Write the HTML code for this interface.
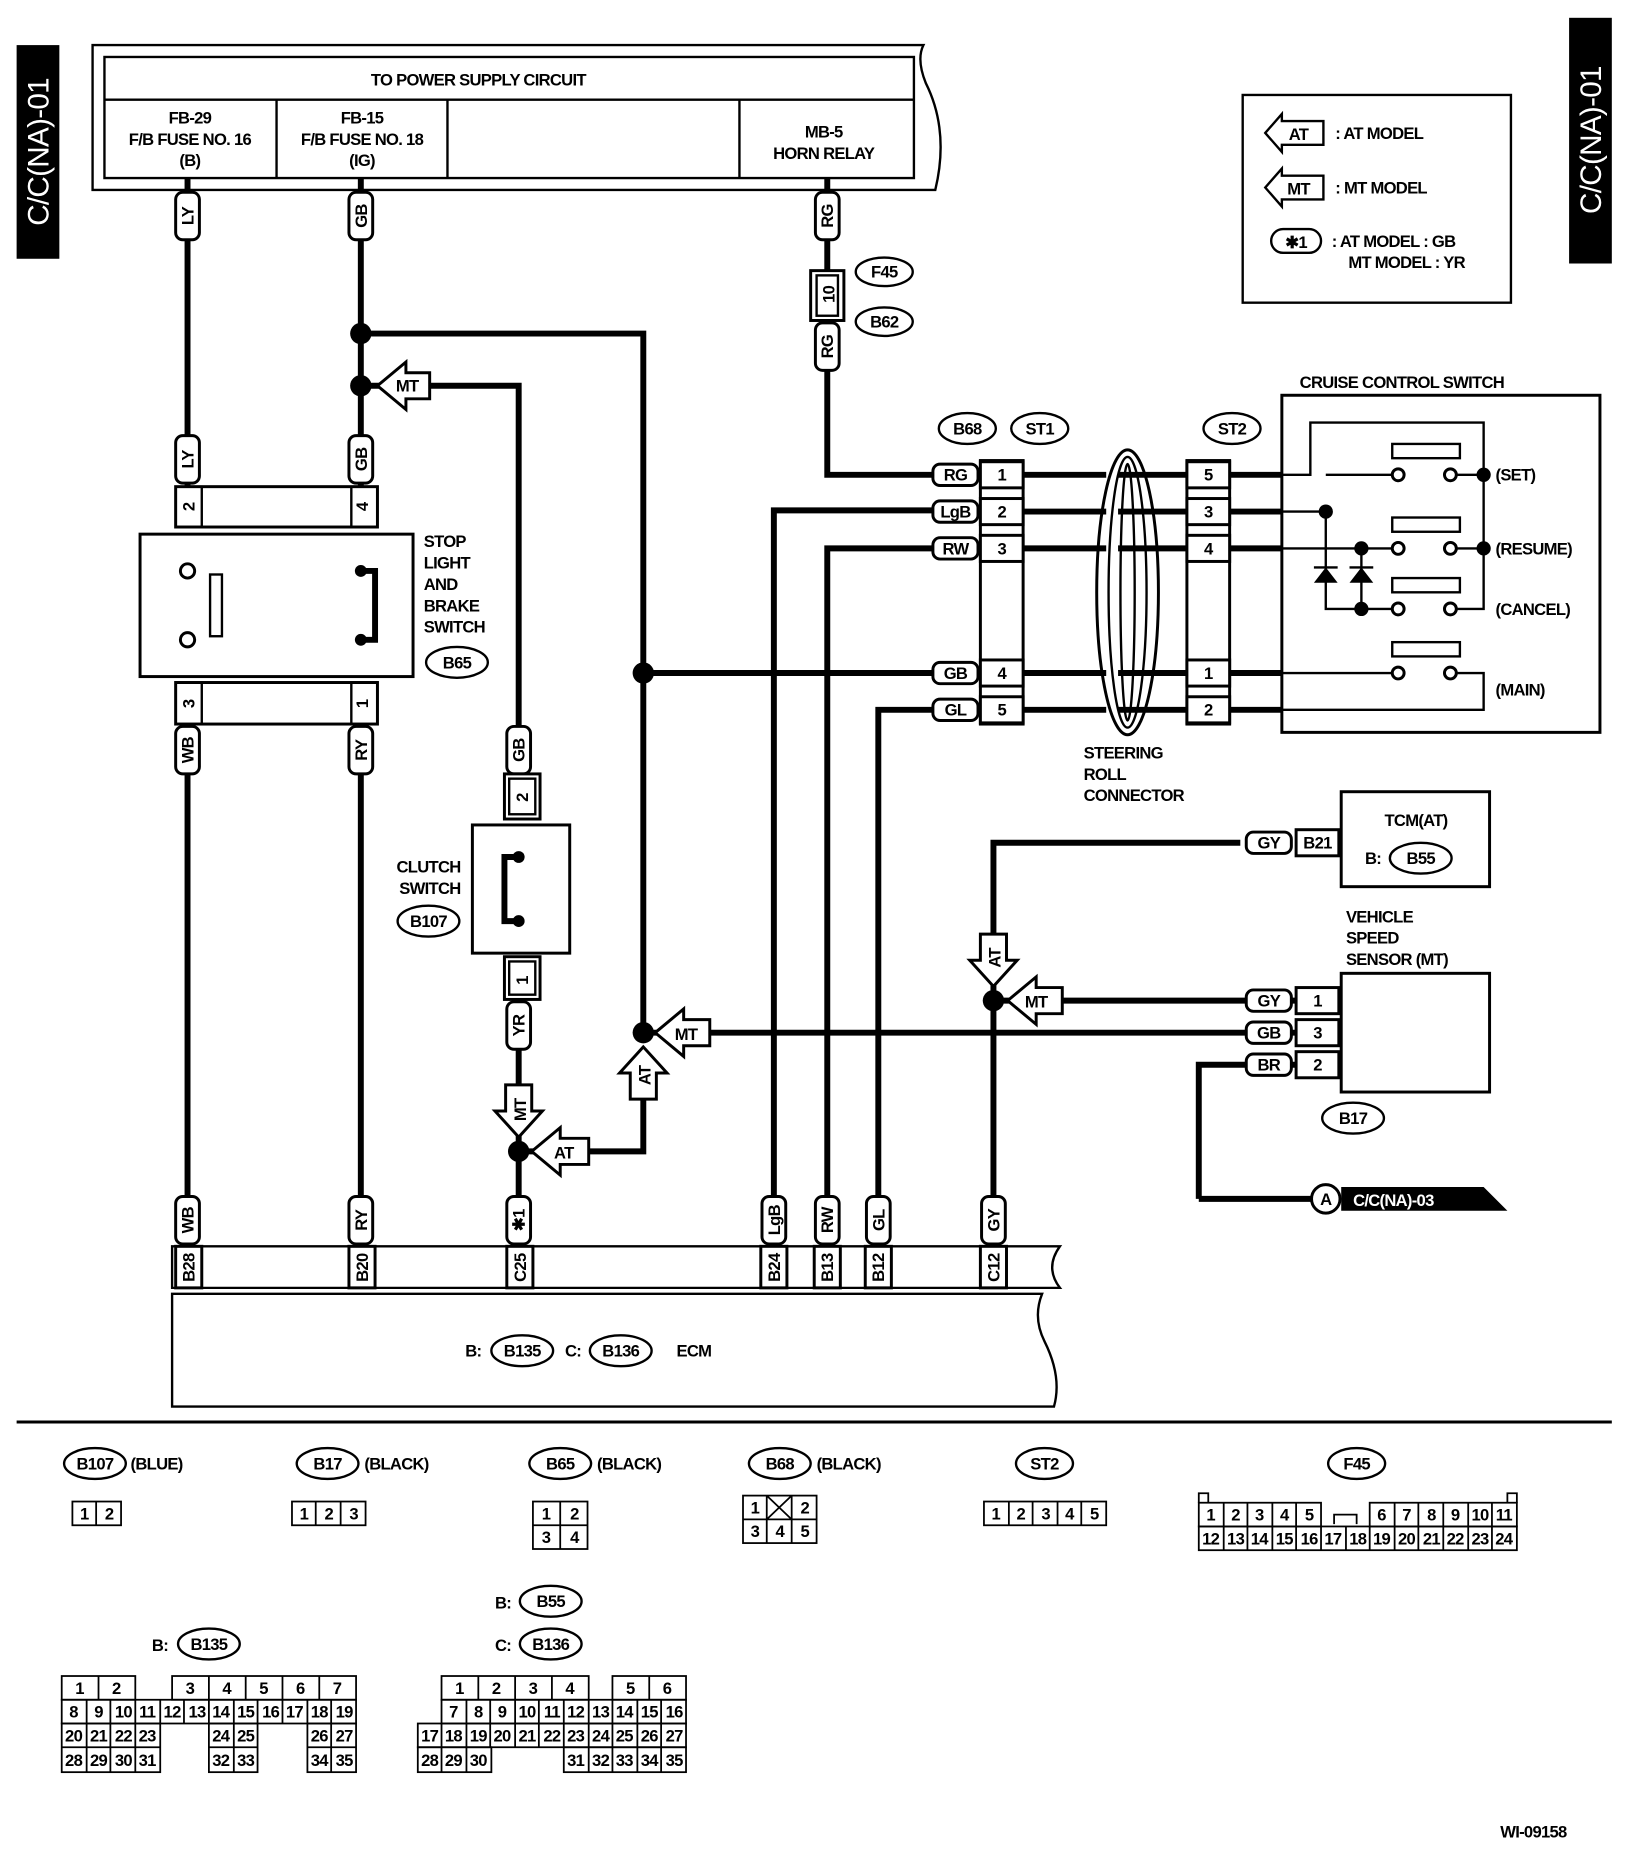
<!DOCTYPE html>
<html><head><meta charset="utf-8"><style>
html,body{margin:0;padding:0;background:#fff}
svg{display:block}
text{font-family:"Liberation Sans",sans-serif;font-weight:bold;font-size:14px;fill:#000;letter-spacing:-0.6px}
.w{stroke:#000;stroke-width:5;fill:none}
.t{stroke:#000;stroke-width:2;fill:none}
.b{stroke:#000;stroke-width:2.5;fill:#fff}
.c text{text-anchor:middle}
.m{text-anchor:middle}
</style></head><body>
<svg width="1632" height="1860" viewBox="0 0 1375 1567" preserveAspectRatio="none" xmlns="http://www.w3.org/2000/svg">
<rect x="14" y="38" width="36" height="180" fill="#000"/>
<text transform="translate(41,128) rotate(-90)" class="m" style="fill:#fff;font-size:25px;font-weight:normal">C/C(NA)-01</text>
<rect x="1322" y="15" width="36" height="207" fill="#000"/>
<text transform="translate(1349,118) rotate(-90)" class="m" style="fill:#fff;font-size:25px;font-weight:normal">C/C(NA)-01</text>

<path class="t" d="M78 38 H778 Q772 50 780 70 Q800 110 788 160 H78 Z"/>
<rect class="t" x="88" y="48" width="682" height="102"/>
<line class="t" x1="88" y1="84" x2="770" y2="84"/>
<line class="t" x1="233" y1="84" x2="233" y2="150"/>
<line class="t" x1="377" y1="84" x2="377" y2="150"/>
<line class="t" x1="623" y1="84" x2="623" y2="150"/>
<text x="403" y="72" class="m">TO POWER SUPPLY CIRCUIT</text>
<text x="160" y="104" class="m">FB-29</text><text x="160" y="122" class="m">F/B FUSE NO. 16</text><text x="160" y="140" class="m">(B)</text>
<text x="305" y="104" class="m">FB-15</text><text x="305" y="122" class="m">F/B FUSE NO. 18</text><text x="305" y="140" class="m">(IG)</text>
<text x="694" y="116" class="m">MB-5</text><text x="694" y="134" class="m">HORN RELAY</text>

<rect class="t" x="1047" y="80" width="226" height="175"/>
<path class="t" d="M1066 112 L1080 96 V102 H1115 V122 H1080 V128 Z"/><text x="1094" y="118" class="m">AT</text><text x="1125" y="117">: AT MODEL</text>
<path class="t" d="M1066 158 L1080 142 V148 H1115 V168 H1080 V174 Z"/><text x="1094" y="164" class="m">MT</text><text x="1125" y="163">: MT MODEL</text>
<rect class="t" x="1071" y="193" width="42" height="20" rx="10"/><text x="1092" y="209" class="m">✱1</text>
<text x="1122" y="208">: AT MODEL : GB</text><text x="1136" y="226">MT MODEL : YR</text>

<g class="w">
<path d="M158 150 V410 M304 150 V410 M304 281 H542 V870 M304 325 H437 V650"/>
<path d="M542 567 H820 M542 870 H1110 M437 840 V1050 M437 970 H542 V926"/>
<path d="M158 610 V1050 M304 610 V1050"/>
<path d="M697 150 V400 H800"/>
<path d="M652 1050 V430 H800 M697 1050 V462 H800 M740 1050 V598 H800"/>
<path d="M837 1050 V710 H1045 M837 843 H1110 M1010 1010 V897 H1110 M1010 1010 H1110"/>
</g>
<g fill="#000">
<circle cx="304" cy="281" r="9"/><circle cx="304" cy="325" r="9"/><circle cx="542" cy="567" r="9"/><circle cx="542" cy="870" r="9"/><circle cx="437" cy="970" r="9"/><circle cx="837" cy="843" r="9"/>
</g>
<rect class="b" x="683" y="228" width="28" height="42"/><rect class="t" x="688" y="232" width="18" height="34"/>
<text transform="translate(703,248) rotate(-90)" class="m">10</text>
<ellipse class="t" cx="745" cy="229" rx="24" ry="12"/><text x="745" y="234" class="m">F45</text>
<ellipse class="t" cx="745" cy="271" rx="24" ry="12"/><text x="745" y="276" class="m">B62</text>

<g>
<g transform="translate(158,182) rotate(-90)"><rect class="b" x="-20" y="-10" width="40" height="20" rx="6"/><text x="0" y="5" class="m">LY</text></g>
<g transform="translate(304,182) rotate(-90)"><rect class="b" x="-20" y="-10" width="40" height="20" rx="6"/><text x="0" y="5" class="m">GB</text></g>
<g transform="translate(697,182) rotate(-90)"><rect class="b" x="-20" y="-10" width="40" height="20" rx="6"/><text x="0" y="5" class="m">RG</text></g>
<g transform="translate(697,292) rotate(-90)"><rect class="b" x="-20" y="-10" width="40" height="20" rx="6"/><text x="0" y="5" class="m">RG</text></g>
<g transform="translate(158,387) rotate(-90)"><rect class="b" x="-20" y="-10" width="40" height="20" rx="6"/><text x="0" y="5" class="m">LY</text></g>
<g transform="translate(304,387) rotate(-90)"><rect class="b" x="-20" y="-10" width="40" height="20" rx="6"/><text x="0" y="5" class="m">GB</text></g>
<g transform="translate(158,632) rotate(-90)"><rect class="b" x="-20" y="-10" width="40" height="20" rx="6"/><text x="0" y="5" class="m">WB</text></g>
<g transform="translate(304,632) rotate(-90)"><rect class="b" x="-20" y="-10" width="40" height="20" rx="6"/><text x="0" y="5" class="m">RY</text></g>
<g transform="translate(437,632) rotate(-90)"><rect class="b" x="-20" y="-10" width="40" height="20" rx="6"/><text x="0" y="5" class="m">GB</text></g>
<g transform="translate(437,864) rotate(-90)"><rect class="b" x="-20" y="-10" width="40" height="20" rx="6"/><text x="0" y="5" class="m">YR</text></g>
<g transform="translate(158,1028) rotate(-90)"><rect class="b" x="-20" y="-10" width="40" height="20" rx="6"/><text x="0" y="5" class="m">WB</text></g>
<g transform="translate(304,1028) rotate(-90)"><rect class="b" x="-20" y="-10" width="40" height="20" rx="6"/><text x="0" y="5" class="m">RY</text></g>
<g transform="translate(437,1028) rotate(-90)"><rect class="b" x="-20" y="-10" width="40" height="20" rx="6"/><text x="0" y="5" class="m">✱1</text></g>
<g transform="translate(652,1028) rotate(-90)"><rect class="b" x="-20" y="-10" width="40" height="20" rx="6"/><text x="0" y="5" class="m">LgB</text></g>
<g transform="translate(697,1028) rotate(-90)"><rect class="b" x="-20" y="-10" width="40" height="20" rx="6"/><text x="0" y="5" class="m">RW</text></g>
<g transform="translate(740,1028) rotate(-90)"><rect class="b" x="-20" y="-10" width="40" height="20" rx="6"/><text x="0" y="5" class="m">GL</text></g>
<g transform="translate(837,1028) rotate(-90)"><rect class="b" x="-20" y="-10" width="40" height="20" rx="6"/><text x="0" y="5" class="m">GY</text></g>
</g>

<rect class="b" x="148" y="410" width="170" height="34"/><rect class="t" x="148" y="410" width="22" height="34"/><rect class="t" x="296" y="410" width="22" height="34"/>
<text transform="translate(164,427) rotate(-90)" class="m">2</text><text transform="translate(310,427) rotate(-90)" class="m">4</text>
<rect class="b" x="118" y="450" width="230" height="120"/>
<circle class="b" cx="158" cy="481" r="6"/><circle class="b" cx="158" cy="539" r="6"/><rect class="t" x="177" y="484" width="10" height="52"/>
<circle fill="#000" cx="304" cy="481" r="5"/><circle fill="#000" cx="304" cy="539" r="5"/><path d="M304 481 H316 V539 H304" class="w"/>
<rect class="b" x="148" y="575" width="170" height="35"/><rect class="t" x="148" y="575" width="22" height="35"/><rect class="t" x="296" y="575" width="22" height="35"/>
<text transform="translate(164,593) rotate(-90)" class="m">3</text><text transform="translate(310,593) rotate(-90)" class="m">1</text>
<text x="357" y="461">STOP</text><text x="357" y="479">LIGHT</text><text x="357" y="497">AND</text><text x="357" y="515">BRAKE</text><text x="357" y="533">SWITCH</text>
<ellipse class="t" cx="385" cy="558" rx="26" ry="13"/><text x="385" y="563" class="m">B65</text>

<rect class="b" x="425" y="652" width="30" height="38"/><rect class="t" x="429" y="656" width="22" height="30"/><text transform="translate(445,672) rotate(-90)" class="m">2</text>
<rect class="b" x="398" y="695" width="82" height="108"/>
<circle fill="#000" cx="437" cy="722" r="5"/><circle fill="#000" cx="437" cy="776" r="5"/><path class="w" d="M437 722 H425 V776 H437"/>
<rect class="b" x="425" y="806" width="30" height="36"/><rect class="t" x="429" y="810" width="22" height="28"/><text transform="translate(445,826) rotate(-90)" class="m">1</text>
<text x="388" y="735" style="text-anchor:end">CLUTCH</text><text x="388" y="753" style="text-anchor:end">SWITCH</text>
<ellipse class="t" cx="361" cy="776" rx="26" ry="13"/><text x="361" y="781" class="m">B107</text>

<g>
<path class="b" d="M318 325 L342 305 V314 H362 V336 H342 V345 Z"/><text x="343" y="330" class="m">MT</text>
<path class="b" d="M552 870 L576 850 V859 H598 V881 H576 V890 Z"/><text x="578" y="876" class="m">MT</text>
<path class="b" d="M448 970 L472 950 V959 H496 V981 H472 V990 Z"/><text x="475" y="976" class="m">AT</text>
<path class="b" d="M849 843 L873 823 V832 H895 V854 H873 V863 Z"/><text x="873" y="849" class="m">MT</text>
<path class="b" d="M437 958 L417 936 H426 V914 H448 V936 H457 Z"/><text transform="translate(443,935) rotate(-90)" class="m">MT</text>
<path class="b" d="M542 882 L522 904 H531 V926 H553 V904 H562 Z"/><text transform="translate(548,906) rotate(-90)" class="m">AT</text>
<path class="b" d="M837 831 L817 809 H826 V787 H848 V809 H857 Z"/><text transform="translate(843,807) rotate(-90)" class="m">AT</text>
</g>

<rect class="b" x="826" y="388" width="36" height="222"/>
<g class="c">
<rect class="b" x="826" y="389" width="36" height="22"/><text x="844" y="405">1</text>
<rect class="b" x="826" y="420" width="36" height="22"/><text x="844" y="436">2</text>
<rect class="b" x="826" y="451" width="36" height="22"/><text x="844" y="467">3</text>
<rect class="b" x="826" y="556" width="36" height="22"/><text x="844" y="572">4</text>
<rect class="b" x="826" y="587" width="36" height="22"/><text x="844" y="603">5</text>
<rect class="b" x="786" y="391" width="38" height="18" rx="6"/><text x="805" y="405">RG</text>
<rect class="b" x="786" y="422" width="38" height="18" rx="6"/><text x="805" y="436">LgB</text>
<rect class="b" x="786" y="453" width="38" height="18" rx="6"/><text x="805" y="467">RW</text>
<rect class="b" x="786" y="558" width="38" height="18" rx="6"/><text x="805" y="572">GB</text>
<rect class="b" x="786" y="589" width="38" height="18" rx="6"/><text x="805" y="603">GL</text>
</g>
<ellipse class="t" cx="815" cy="361" rx="24" ry="13"/><text x="815" y="366" class="m">B68</text>
<ellipse class="t" cx="876" cy="361" rx="24" ry="13"/><text x="876" y="366" class="m">ST1</text>
<ellipse class="t" cx="1038" cy="361" rx="24" ry="13"/><text x="1038" y="366" class="m">ST2</text>
<ellipse class="b" cx="950" cy="499" rx="26" ry="120"/><ellipse class="t" cx="950" cy="499" rx="16" ry="114"/><ellipse class="t" cx="950" cy="499" rx="6" ry="108"/>
<path class="w" d="M862 400 H1080 M862 431 H1080 M862 462 H1080 M862 567 H1080 M862 598 H1080" style="stroke-dasharray:70 10 200"/>
<text x="913" y="639">STEERING</text><text x="913" y="657">ROLL</text><text x="913" y="675">CONNECTOR</text>
<rect class="b" x="1000" y="388" width="36" height="222"/>
<g class="c">
<rect class="b" x="1000" y="389" width="36" height="22"/><text x="1018" y="405">5</text>
<rect class="b" x="1000" y="420" width="36" height="22"/><text x="1018" y="436">3</text>
<rect class="b" x="1000" y="451" width="36" height="22"/><text x="1018" y="467">4</text>
<rect class="b" x="1000" y="556" width="36" height="22"/><text x="1018" y="572">1</text>
<rect class="b" x="1000" y="587" width="36" height="22"/><text x="1018" y="603">2</text>
</g>
<text x="1095" y="327">CRUISE CONTROL SWITCH</text>
<rect class="t" x="1080" y="333" width="268" height="284" style="stroke-width:2.5"/>
<g class="t">
<path d="M1080 400 H1104 V356 H1250 V513 H1228"/>
<path d="M1080 431 H1117 M1117 431 V513 H1178 M1117 400 H1178 M1080 462 H1178 M1147 462 V513"/>
<path d="M1080 567 H1178 M1080 598 H1250 V567 H1228"/>
<path d="M1228 400 H1250 M1228 462 H1250"/>
<rect x="1173" y="374" width="57" height="12"/><rect x="1173" y="436" width="57" height="12"/><rect x="1173" y="487" width="57" height="12"/><rect x="1173" y="541" width="57" height="12"/>
<path d="M1107 478 H1127 M1137 478 H1157"/>
</g>
<path d="M1117 478 L1107 491 H1127 Z M1147 478 L1137 491 H1157 Z" fill="#000"/>
<g class="b" style="stroke-width:2.5"><circle cx="1178" cy="400" r="5"/><circle cx="1222" cy="400" r="5"/><circle cx="1178" cy="462" r="5"/><circle cx="1222" cy="462" r="5"/><circle cx="1178" cy="513" r="5"/><circle cx="1222" cy="513" r="5"/><circle cx="1178" cy="567" r="5"/><circle cx="1222" cy="567" r="5"/></g>
<g fill="#000"><circle cx="1250" cy="400" r="6"/><circle cx="1250" cy="462" r="6"/><circle cx="1117" cy="431" r="6"/><circle cx="1147" cy="462" r="6"/><circle cx="1147" cy="513" r="6"/></g>
<text x="1260" y="405">(SET)</text><text x="1260" y="467">(RESUME)</text><text x="1260" y="518">(CANCEL)</text><text x="1260" y="586">(MAIN)</text>

<rect class="t" x="1130" y="667" width="125" height="80" style="stroke-width:2.5"/>
<text x="1193" y="696" class="m">TCM(AT)</text><text x="1150" y="728">B:</text>
<ellipse class="t" cx="1197" cy="723" rx="26" ry="13"/><text x="1197" y="728" class="m">B55</text>
<rect class="b" x="1092" y="699" width="36" height="22"/><text x="1110" y="715" class="m">B21</text>
<rect class="b" x="1050" y="701" width="38" height="18" rx="6"/><text x="1069" y="715" class="m">GY</text>
<text x="1134" y="777">VEHICLE</text><text x="1134" y="795">SPEED</text><text x="1134" y="813">SENSOR (MT)</text>
<rect class="t" x="1130" y="820" width="125" height="100" style="stroke-width:2.5"/>
<g class="c">
<rect class="b" x="1092" y="832" width="36" height="22"/><text x="1110" y="848">1</text>
<rect class="b" x="1092" y="859" width="36" height="22"/><text x="1110" y="875">3</text>
<rect class="b" x="1092" y="886" width="36" height="22"/><text x="1110" y="902">2</text>
<rect class="b" x="1050" y="834" width="38" height="18" rx="6"/><text x="1069" y="848">GY</text>
<rect class="b" x="1050" y="861" width="38" height="18" rx="6"/><text x="1069" y="875">GB</text>
<rect class="b" x="1050" y="888" width="38" height="18" rx="6"/><text x="1069" y="902">BR</text>
</g>
<ellipse class="t" cx="1140" cy="942" rx="26" ry="13"/><text x="1140" y="947" class="m">B17</text>
<path d="M1130 1000 H1250 L1270 1020 H1130 Z" fill="#000"/>
<circle class="b" cx="1117" cy="1010" r="12"/><text x="1117" y="1015" class="m">A</text>
<text x="1140" y="1016" style="fill:#fff">C/C(NA)-03</text>

<path class="t" d="M145 1050 H893 Q880 1068 893 1085 H145 Z"/>
<g class="c">
<rect class="b" x="148" y="1050" width="22" height="35"/><text transform="translate(164,1068) rotate(-90)">B28</text>
<rect class="b" x="294" y="1050" width="22" height="35"/><text transform="translate(310,1068) rotate(-90)">B20</text>
<rect class="b" x="427" y="1050" width="22" height="35"/><text transform="translate(443,1068) rotate(-90)">C25</text>
<rect class="b" x="641" y="1050" width="22" height="35"/><text transform="translate(657,1068) rotate(-90)">B24</text>
<rect class="b" x="686" y="1050" width="22" height="35"/><text transform="translate(702,1068) rotate(-90)">B13</text>
<rect class="b" x="729" y="1050" width="22" height="35"/><text transform="translate(745,1068) rotate(-90)">B12</text>
<rect class="b" x="826" y="1050" width="22" height="35"/><text transform="translate(842,1068) rotate(-90)">C12</text>
</g>
<path class="t" d="M145 1090 H878 Q870 1110 880 1130 Q895 1160 888 1185 H145 Z"/>
<text x="392" y="1143">B:</text><ellipse class="t" cx="440" cy="1138" rx="26" ry="13"/><text x="440" y="1143" class="m">B135</text>
<text x="476" y="1143">C:</text><ellipse class="t" cx="523" cy="1138" rx="26" ry="13"/><text x="523" y="1143" class="m">B136</text>
<text x="570" y="1143">ECM</text>

<line x1="14" y1="1198" x2="1358" y2="1198" stroke="#000" stroke-width="2.5"/>

<ellipse class="t" cx="80" cy="1233" rx="26" ry="13"/><text x="80" y="1238" class="m">B107</text><text x="110" y="1238">(BLUE)</text>
<ellipse class="t" cx="276" cy="1233" rx="26" ry="13"/><text x="276" y="1238" class="m">B17</text><text x="307" y="1238">(BLACK)</text>
<ellipse class="t" cx="472" cy="1233" rx="26" ry="13"/><text x="472" y="1238" class="m">B65</text><text x="503" y="1238">(BLACK)</text>
<ellipse class="t" cx="657" cy="1233" rx="26" ry="13"/><text x="657" y="1238" class="m">B68</text><text x="688" y="1238">(BLACK)</text>
<ellipse class="t" cx="880" cy="1233" rx="24" ry="13"/><text x="880" y="1238" class="m">ST2</text>
<ellipse class="t" cx="1143" cy="1233" rx="24" ry="13"/><text x="1143" y="1238" class="m">F45</text>
<g class="c" style="font-size:13px">
<g class="t" style="stroke-width:1.5">
<rect x="61" y="1265" width="41" height="20"/><line x1="81" y1="1265" x2="81" y2="1285"/>
<rect x="246" y="1265" width="62" height="20"/><line x1="266" y1="1265" x2="266" y2="1285"/><line x1="287" y1="1265" x2="287" y2="1285"/>
<rect x="449" y="1265" width="46" height="40"/><line x1="472" y1="1265" x2="472" y2="1305"/><line x1="449" y1="1285" x2="495" y2="1285"/>
<rect x="626" y="1260" width="62" height="40"/><line x1="646" y1="1260" x2="646" y2="1300"/><line x1="667" y1="1260" x2="667" y2="1300"/><line x1="626" y1="1280" x2="688" y2="1280"/><path d="M646 1260 L667 1280 M667 1260 L646 1280"/>
<rect x="829" y="1265" width="103" height="20"/><line x1="850" y1="1265" x2="850" y2="1285"/><line x1="870" y1="1265" x2="870" y2="1285"/><line x1="891" y1="1265" x2="891" y2="1285"/><line x1="911" y1="1265" x2="911" y2="1285"/>
</g>
<text x="71" y="1280">1</text><text x="92" y="1280">2</text>
<text x="256" y="1280">1</text><text x="277" y="1280">2</text><text x="298" y="1280">3</text>
<text x="460" y="1280">1</text><text x="484" y="1280">2</text><text x="460" y="1300">3</text><text x="484" y="1300">4</text>
<text x="636" y="1275">1</text><text x="678" y="1275">2</text><text x="636" y="1295">3</text><text x="657" y="1295">4</text><text x="678" y="1295">5</text>
<text x="839" y="1280">1</text><text x="860" y="1280">2</text><text x="881" y="1280">3</text><text x="901" y="1280">4</text><text x="922" y="1280">5</text>
</g>
<!-- F45 grid, 13 cells of 20.6 -->
<g class="c" style="font-size:12px">
<g class="t" style="stroke-width:1.5">
<rect x="1010" y="1266" width="103" height="20"/><rect x="1154" y="1266" width="124" height="20"/><rect x="1010" y="1286" width="268" height="20"/>
<path d="M1031 1266V1286M1051 1266V1286M1072 1266V1286M1092 1266V1286M1175 1266V1286M1195 1266V1286M1216 1266V1286M1237 1266V1286M1257 1266V1286"/>
<path d="M1031 1286V1306M1051 1286V1306M1072 1286V1306M1092 1286V1306M1113 1286V1306M1134 1286V1306M1154 1286V1306M1175 1286V1306M1195 1286V1306M1216 1286V1306M1237 1286V1306M1257 1286V1306"/>
<path d="M1124 1284V1276H1143V1284"/>
<path d="M1010 1266V1258H1018V1266 M1270 1266V1258H1278V1266"/>
</g>
<text x="1020" y="1281">1</text><text x="1041" y="1281">2</text><text x="1061" y="1281">3</text><text x="1082" y="1281">4</text><text x="1103" y="1281">5</text>
<text x="1164" y="1281">6</text><text x="1185" y="1281">7</text><text x="1206" y="1281">8</text><text x="1226" y="1281">9</text><text x="1247" y="1281">10</text><text x="1267" y="1281">11</text>
<text x="1020" y="1301">12</text><text x="1041" y="1301">13</text><text x="1061" y="1301">14</text><text x="1082" y="1301">15</text><text x="1103" y="1301">16</text><text x="1123" y="1301">17</text><text x="1144" y="1301">18</text>
<text x="1164" y="1301">19</text><text x="1185" y="1301">20</text><text x="1206" y="1301">21</text><text x="1226" y="1301">22</text><text x="1247" y="1301">23</text><text x="1267" y="1301">24</text>
</g>

<text x="417" y="1355">B:</text><ellipse class="t" cx="464" cy="1349" rx="26" ry="13"/><text x="464" y="1354" class="m">B55</text>
<text x="417" y="1391">C:</text><ellipse class="t" cx="464" cy="1385" rx="26" ry="13"/><text x="464" y="1390" class="m">B136</text>
<text x="128" y="1391">B:</text><ellipse class="t" cx="176" cy="1385" rx="26" ry="13"/><text x="176" y="1390" class="m">B135</text>

<g class="c" style="font-size:12px">
<g class="t" style="stroke-width:1.5">
<rect x="52" y="1412" width="62" height="20"/><line x1="83" y1="1412" x2="83" y2="1432"/>
<rect x="145" y="1412" width="155" height="20"/><path d="M176 1412V1432M207 1412V1432M238 1412V1432M269 1412V1432"/>
<rect x="52" y="1432" width="248" height="20"/><path d="M73 1432V1452M93 1432V1452M114 1432V1452M135 1432V1452M155 1432V1452M176 1432V1452M197 1432V1452M217 1432V1452M238 1432V1452M259 1432V1452M279 1432V1452"/>
<rect x="52" y="1452" width="83" height="41"/><path d="M73 1452V1493M93 1452V1493M114 1452V1493M52 1472H135"/>
<rect x="176" y="1452" width="41" height="41"/><path d="M197 1452V1493M176 1472H217"/>
<rect x="259" y="1452" width="41" height="41"/><path d="M279 1452V1493M259 1472H300"/>
</g>
<text x="67" y="1427">1</text><text x="98" y="1427">2</text><text x="160" y="1427">3</text><text x="191" y="1427">4</text><text x="222" y="1427">5</text><text x="253" y="1427">6</text><text x="284" y="1427">7</text>
<text x="62" y="1447">8</text><text x="83" y="1447">9</text><text x="104" y="1447">10</text><text x="124" y="1447">11</text><text x="145" y="1447">12</text><text x="166" y="1447">13</text><text x="186" y="1447">14</text><text x="207" y="1447">15</text><text x="228" y="1447">16</text><text x="248" y="1447">17</text><text x="269" y="1447">18</text><text x="290" y="1447">19</text>
<text x="62" y="1467">20</text><text x="83" y="1467">21</text><text x="104" y="1467">22</text><text x="124" y="1467">23</text><text x="186" y="1467">24</text><text x="207" y="1467">25</text><text x="269" y="1467">26</text><text x="290" y="1467">27</text>
<text x="62" y="1488">28</text><text x="83" y="1488">29</text><text x="104" y="1488">30</text><text x="124" y="1488">31</text><text x="186" y="1488">32</text><text x="207" y="1488">33</text><text x="269" y="1488">34</text><text x="290" y="1488">35</text>
</g>
<g class="c" style="font-size:12px">
<g class="t" style="stroke-width:1.5">
<rect x="372" y="1412" width="124" height="20"/><path d="M403 1412V1432M434 1412V1432M465 1412V1432"/>
<rect x="516" y="1412" width="62" height="20"/><line x1="547" y1="1412" x2="547" y2="1432"/>
<rect x="372" y="1432" width="206" height="20"/><path d="M393 1432V1452M413 1432V1452M434 1432V1452M454 1432V1452M475 1432V1452M496 1432V1452M516 1432V1452M537 1432V1452M557 1432V1452"/>
<rect x="352" y="1452" width="226" height="20"/><path d="M372 1452V1472M393 1452V1472M413 1452V1472M434 1452V1472M454 1452V1472M475 1452V1472M496 1452V1472M516 1452V1472M537 1452V1472M557 1452V1472"/>
<rect x="352" y="1472" width="62" height="21"/><path d="M372 1472V1493M393 1472V1493"/>
<rect x="475" y="1472" width="103" height="21"/><path d="M496 1472V1493M516 1472V1493M537 1472V1493M557 1472V1493"/>
</g>
<text x="387" y="1427">1</text><text x="418" y="1427">2</text><text x="449" y="1427">3</text><text x="480" y="1427">4</text><text x="531" y="1427">5</text><text x="562" y="1427">6</text>
<text x="382" y="1447">7</text><text x="403" y="1447">8</text><text x="423" y="1447">9</text><text x="444" y="1447">10</text><text x="465" y="1447">11</text><text x="485" y="1447">12</text><text x="506" y="1447">13</text><text x="526" y="1447">14</text><text x="547" y="1447">15</text><text x="568" y="1447">16</text>
<text x="362" y="1467">17</text><text x="382" y="1467">18</text><text x="403" y="1467">19</text><text x="423" y="1467">20</text><text x="444" y="1467">21</text><text x="465" y="1467">22</text><text x="485" y="1467">23</text><text x="506" y="1467">24</text><text x="526" y="1467">25</text><text x="547" y="1467">26</text><text x="568" y="1467">27</text>
<text x="362" y="1488">28</text><text x="382" y="1488">29</text><text x="403" y="1488">30</text><text x="485" y="1488">31</text><text x="506" y="1488">32</text><text x="526" y="1488">33</text><text x="547" y="1488">34</text><text x="568" y="1488">35</text>
</g>

<text x="1264" y="1548">WI-09158</text>
</svg>
</body></html>
